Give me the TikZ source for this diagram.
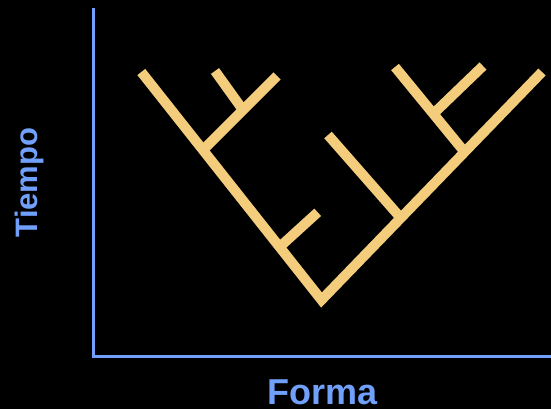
\documentclass[tikz,border=0pt]{standalone}
\usepackage{fontspec}
\setmainfont{Liberation Sans}
\definecolor{treecol}{RGB}{243,205,124}
\definecolor{axiscol}{RGB}{112,160,250}
\begin{document}
\begin{tikzpicture}[x=1pt,y=-1pt,
  tree/.style={draw=treecol,line width=10pt,line cap=butt,line join=miter},
  axisline/.style={draw=axiscol,line width=3pt,line join=miter},
  axislabel/.style={text=axiscol,font=\bfseries,inner sep=0pt,anchor=base}]
\fill[black] (0,0) rectangle (551,409);
\useasboundingbox (0,0) rectangle (551,409);
% axes
\coordinate (ytop) at (93.5,8);
\coordinate (origin) at (93.5,356.5);
\coordinate (xend) at (551,356.5);
\draw[axisline] (ytop) -- (origin) -- (xend);
\node[axislabel,font=\bfseries\fontsize{36}{40}\selectfont] (forma) at (322.5,404) {Forma};
\node[axislabel,rotate=90,font=\bfseries\fontsize{31}{36}\selectfont] (tiempo) at (37.5,182.5) {Tiempo};
% tree
\coordinate (root) at (321.5,300);
\coordinate (lend) at (141.3,72);
\coordinate (rend) at (542,72);
\draw[tree] (lend) -- (root) -- (rend);
% left branches
\coordinate (b1s) at (203,150);
\coordinate (b1e) at (277,76);
\draw[tree] (b1s) -- (b1e);
\coordinate (s1s) at (243,110);
\coordinate (s1e) at (215,71);
\draw[tree] (s1s) -- (s1e);
\coordinate (b2s) at (279.6,247);
\coordinate (b2e) at (317.7,212.3);
\draw[tree] (b2s) -- (b2e);
% right branches
\coordinate (b3s) at (400.8,218);
\coordinate (b3e) at (328,135);
\draw[tree] (b3s) -- (b3e);
\coordinate (b4s) at (464.6,152);
\coordinate (b4e) at (395,67);
\draw[tree] (b4s) -- (b4e);
\coordinate (s4s) at (433.3,113.8);
\coordinate (s4e) at (483,66);
\draw[tree] (s4s) -- (s4e);
\end{tikzpicture}
\end{document}
